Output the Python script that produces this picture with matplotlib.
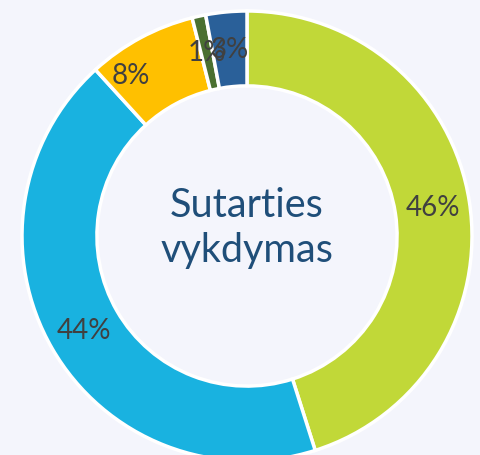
import matplotlib
matplotlib.use('Agg')
from matplotlib import pyplot as plt

labels = ['A', 'B', 'C', 'D', 'E']
shares = [46, 44, 8, 1, 3]
colors = ['#C1D838', '#19B2E0', '#FFC000', '#4A7030', '#2A6099']
center_text = 'Sutarties\nvykdymas'

bg = '#F4F5FC'
plt.rcParams['font.family'] = ['Lato', 'DejaVu Sans']

fig = plt.figure(figsize=(4.8, 4.56), dpi=100, facecolor=bg)
ax = fig.add_axes([0, 0, 1, 1])
ax.set_facecolor(bg)

wedges, texts, autotexts = ax.pie(
    shares, colors=colors, startangle=90, counterclock=False,
    radius=1.0, autopct=lambda p: f'{round(p * sum(shares) / 100):d}%',
    pctdistance=0.835,
    wedgeprops=dict(width=0.333, edgecolor='white', linewidth=2.5),
    textprops=dict(color='#404040', fontsize=20))

# the 8% label sits a bit to the left in the original
x8, y8 = autotexts[2].get_position()
autotexts[2].set_position((x8 - 0.12, y8 - 0.02))

ax.text(0, 0.04, center_text, ha='center', va='center', fontsize=28.5,
        color='#1F4E79', linespacing=1.25)

ax.set_aspect('auto')
ax.set_xlim(-1.0978, 1.0356)
ax.set_ylim(-0.9733, 1.0533)
ax.axis('off')

fig.savefig('out.png', dpi=100, facecolor=bg)
